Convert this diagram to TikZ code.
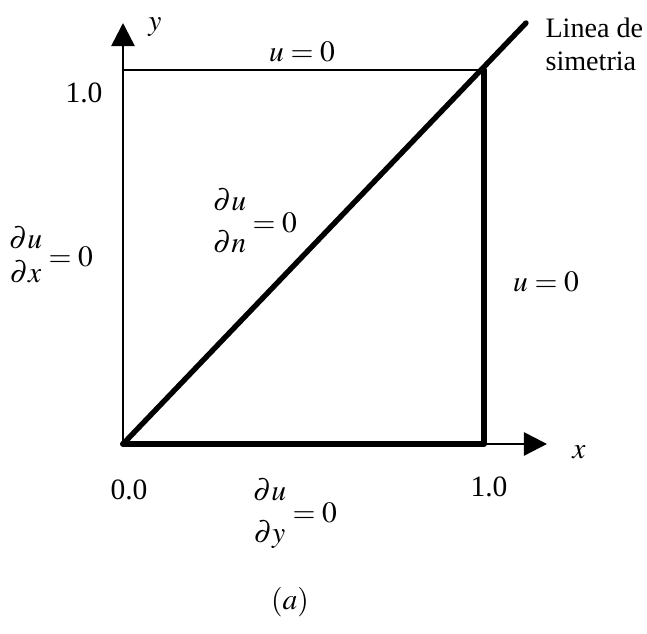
\documentclass[tikz,border=0pt]{standalone}
\usepackage{mathptmx}
\usepackage{fontspec}
\setmainfont{Liberation Serif}
\usetikzlibrary{arrows.meta}

\begin{document}
\begin{tikzpicture}[x=0.0125cm,y=0.0125cm,line cap=round,line join=round,
  every node/.style={inner sep=1pt,font=\fontsize{10.5}{12}\selectfont},
  edgethin/.style={line width=0.9pt},
  edgethick/.style={line width=2.1pt},
  axis/.style={line width=0.9pt,-{Triangle[length=2.9mm,width=2.9mm]}}]
  \useasboundingbox (-123,-190) rectangle (524,444);
  \def\W{361}
  \def\H{374}
  \coordinate (O) at (0,0);
  \coordinate (X) at (\W,0);
  \coordinate (C) at (\W,\H);
  \coordinate (Y) at (0,\H);
  \coordinate (xtip) at (424,0);
  \coordinate (ytip) at (0,421);
  \coordinate (ext) at (403,421);
  % axes
  \draw[axis] (O) -- (xtip);
  \draw[axis] (O) -- (ytip);
  % square and symmetry line
  \draw[edgethin] (Y) -- (C);
  \draw[edgethick] (O) -- (X) -- (C);
  \draw[line width=1.9pt] (O) -- (ext);
  % labels
  \node (ylab) at (32,417) {$y$};
  \node (xlab) at (456,-8) {$x$};
  \node (x0) at (6,-46) {0.0};
  \node (x1) at (366,-43) {1.0};
  \node (y1) at (-39,351) {1.0};
  \node (utop) at (179,392) {$u=0$};
  \node (uright) at (423,162) {$u=0$};
  \node (dudx) at (-72,185) {$\begin{array}{@{}c@{}}\partial u\\ \partial x\end{array}=0$};
  \node (dudn) at (132,219) {$\begin{array}{@{}c@{}}\partial u\\[3pt] \partial n\end{array}=0$};
  \node (dudy) at (172,-71) {$\begin{array}{@{}c@{}}\partial u\\[3pt] \partial y\end{array}=0$};
  \node[anchor=west,align=left,inner sep=0pt,font=\fontsize{10}{11.8}\selectfont] (sym) at (422,400) {Linea de\\simetria};
  \node (cap) at (167,-158) {$(a)$};
\end{tikzpicture}
\end{document}
